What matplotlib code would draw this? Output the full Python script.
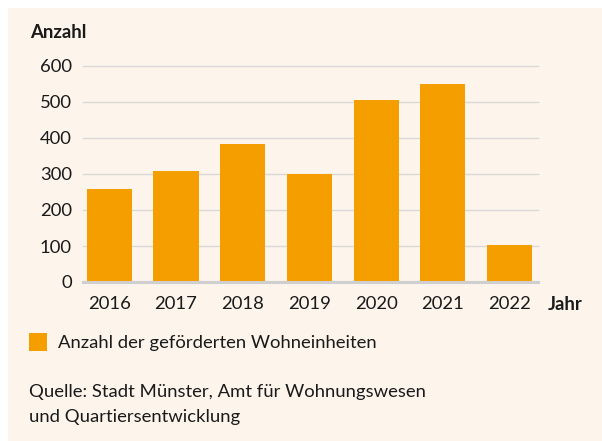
import matplotlib
matplotlib.use("Agg")
import matplotlib.pyplot as plt
from matplotlib.patches import Rectangle

years = ["2016", "2017", "2018", "2019", "2020", "2021", "2022"]
values = [258, 308, 383, 300, 505, 550, 103]
yticks = [0, 100, 200, 300, 400, 500, 600]

BG = "#FDF5EC"
BAR = "#F59E00"
TXT = "#1a1a1a"
FONT = ["Lato", "DejaVu Sans"]

plt.rcParams['font.family'] = FONT

fig = plt.figure(figsize=(6.02, 4.41), dpi=100)
fig.patch.set_facecolor("white")
fig.patches.append(Rectangle((8/602, 0), 1 - 8/602, 1 - 8/441, transform=fig.transFigure,
                             facecolor=BG, edgecolor="none", zorder=-10))

ax = fig.add_axes([83/602, 1 - 282/441, (538 - 83)/602, (282 - 66)/441])
ax.set_facecolor("none")
x = list(range(len(years)))
ax.bar(x, values, width=0.675, color=BAR, zorder=3)
ax.set_xlim(-0.394, 6.427)
ax.set_ylim(0, 600)
ax.set_yticks(yticks)
ax.set_yticklabels([str(v) for v in yticks])
ax.set_xticks(x)
ax.set_xticklabels(years)
for v in yticks[1:]:
    ax.axhline(v, color="#D8D8D8", lw=1.0, zorder=1, clip_on=False)
ax.axhline(0, color="#CFCFCF", lw=2.2, zorder=4, clip_on=False)
for s in ax.spines.values():
    s.set_visible(False)
ax.tick_params(axis="both", length=0, labelsize=13.3, colors=TXT)
ax.tick_params(axis="y", pad=8)
ax.tick_params(axis="x", pad=10)

fig.text(30/602, 1 - 32/441, "Anzahl", fontsize=13.3, fontweight="bold", color=TXT,
         ha="left", va="center")
fig.text(548/602, 1 - 304/441, "Jahr", fontsize=13.3, fontweight="bold", color=TXT,
         ha="left", va="center")

fig.patches.append(Rectangle((29/602, 1 - 351/441), 18/602, 18/441, transform=fig.transFigure,
                             facecolor=BAR, edgecolor="none"))
fig.text(58/602, 1 - 343/441, "Anzahl der geförderten Wohneinheiten", fontsize=13.3,
         color=TXT, ha="left", va="center")
fig.text(29/602, 1 - 392/441, "Quelle: Stadt Münster, Amt für Wohnungswesen", fontsize=13.3,
         color=TXT, ha="left", va="center")
fig.text(29/602, 1 - 417/441, "und Quartiersentwicklung", fontsize=13.3,
         color=TXT, ha="left", va="center")

fig.savefig("out.png", dpi=100, facecolor=fig.get_facecolor())
